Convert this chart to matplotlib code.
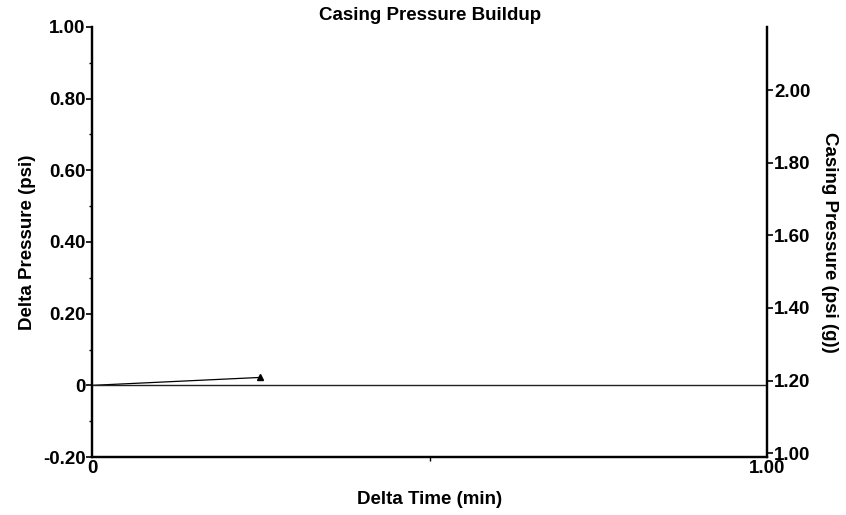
import matplotlib
matplotlib.use("Agg")
import matplotlib.pyplot as plt
from matplotlib.ticker import MultipleLocator, FuncFormatter

# delta pressure vs delta time (left axis)
delta_time = [0.0, 0.248]
delta_pressure = [0.0, 0.022]

# casing pressure (right axis), flat over the whole window
casing_time = [0.0, 1.0]
casing_pressure = [1.188, 1.188]

plt.rcParams["font.family"] = ["Liberation Sans", "DejaVu Sans"]
plt.rcParams["font.weight"] = "bold"
fs = 13.5

fig = plt.figure(figsize=(8.46, 5.15), dpi=100)
ax = fig.add_axes([0.1093, 0.1126, 0.7973, 0.835])
ax2 = ax.twinx()

ax.plot(delta_time, delta_pressure, color="black", lw=0.9, zorder=3)
ax.plot(delta_time[-1:], delta_pressure[-1:], marker="^", color="black",
        ms=5, ls="none", zorder=4)
ax2.plot(casing_time, casing_pressure, color="#222222", lw=1.0)

ax.set_xlim(0, 1.0)
ax.set_ylim(-0.2, 1.0)
ax2.set_ylim(0.989, 2.175)

ax.xaxis.set_major_locator(MultipleLocator(1.0))
ax.xaxis.set_minor_locator(MultipleLocator(0.5))
ax.yaxis.set_major_locator(MultipleLocator(0.2))
ax.yaxis.set_minor_locator(MultipleLocator(0.1))
ax2.yaxis.set_major_locator(MultipleLocator(0.2))

def fmt(v, pos):
    if abs(v) < 1e-9:
        return "0"
    return "%.2f" % v

ax.xaxis.set_major_formatter(FuncFormatter(fmt))
ax.yaxis.set_major_formatter(FuncFormatter(fmt))
ax2.yaxis.set_major_formatter(FuncFormatter(lambda v, p: "%.2f" % v))

for a in (ax, ax2):
    for s in a.spines.values():
        s.set_linewidth(1.6)
    a.spines["top"].set_visible(False)
    a.tick_params(which="major", length=4, width=1.2, labelsize=fs, pad=1)
    a.tick_params(which="minor", length=3, width=1.0)
ax.tick_params(axis="x", which="major", length=0, pad=2)
ax.tick_params(axis="x", which="minor", length=3, direction="out")
ax.tick_params(axis="y", which="minor", length=2, direction="out")

ax.set_title("Casing Pressure Buildup", fontsize=fs, fontweight="bold", pad=5)
ax.set_xlabel("Delta Time (min)", fontsize=fs, fontweight="bold", labelpad=10)
ax.set_ylabel("Delta Pressure (psi)", fontsize=fs, fontweight="bold", labelpad=5)
ax2.set_ylabel("Casing Pressure (psi (g))", fontsize=fs, fontweight="bold",
               rotation=-90, labelpad=20)

fig.savefig("out.png", dpi=100)
